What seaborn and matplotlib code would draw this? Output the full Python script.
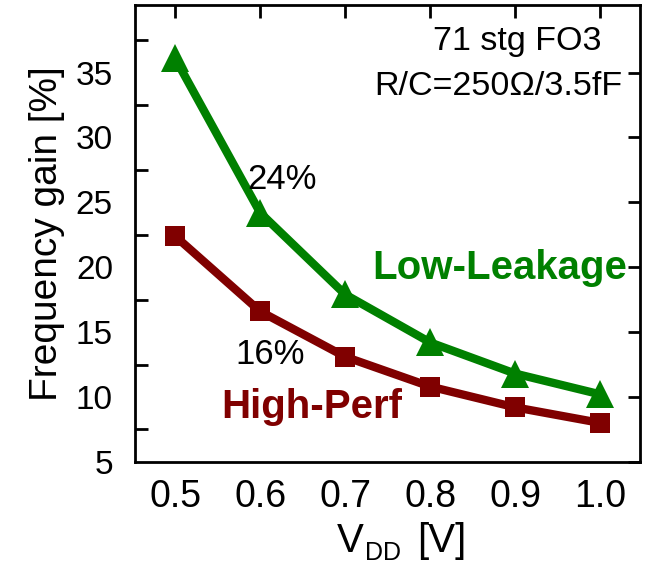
import matplotlib
matplotlib.use("Agg")
import matplotlib.pyplot as plt
import seaborn as sns
import pandas as pd
from matplotlib.ticker import FixedLocator

vdd = [0.5, 0.6, 0.7, 0.8, 0.9, 1.0]
low_leakage = [36.1, 24.2, 17.9, 14.2, 11.8, 10.2]
high_perf = [22.4, 16.6, 13.1, 10.8, 9.2, 8.0]
xtick_labels = ["0.5", "0.6", "0.7", "0.8", "0.9", "1.0"]
ytick_major = [5, 10, 15, 20, 25, 30, 35]
ytick_minor = [7.5, 12.5, 17.5, 22.5, 27.5, 32.5, 37.5]

df_low = pd.DataFrame({"VDD": vdd, "gain": low_leakage})
df_high = pd.DataFrame({"VDD": vdd, "gain": high_perf})

sns.set_style("white")
plt.rcParams["font.family"] = ["Liberation Sans", "DejaVu Sans"]
plt.rcParams["text.color"] = "black"
plt.rcParams["axes.labelcolor"] = "black"
plt.rcParams["xtick.color"] = "black"
plt.rcParams["ytick.color"] = "black"

green = "#008000"
dred = "#800000"

W, H = 656, 566
fig = plt.figure(figsize=(W / 100, H / 100), dpi=100)
ax = fig.add_axes([0.206, 0.184, 0.770, 0.807])

sns.lineplot(data=df_low, x="VDD", y="gain", color=green, marker="^",
             linewidth=6, markersize=20, markeredgewidth=0, ax=ax)
sns.lineplot(data=df_high, x="VDD", y="gain", color=dred, marker="s",
             linewidth=6, markersize=14.5, markeredgewidth=0, ax=ax)

ax.set_xlim(0.453, 1.047)
ax.set_ylim(5, 40.2)
ax.xaxis.set_major_locator(FixedLocator(vdd))
ax.set_xticklabels(xtick_labels)
ax.yaxis.set_major_locator(FixedLocator(ytick_major))
ax.yaxis.set_minor_locator(FixedLocator(ytick_minor))

for sp in ax.spines.values():
    sp.set_linewidth(2)
    sp.set_color("black")

ax.tick_params(axis="both", which="major", direction="in", length=9, width=2,
               top=True, right=True)
ax.tick_params(axis="y", which="major", labelsize=24, pad=16)
ax.tick_params(axis="x", which="major", labelsize=27, pad=12)
ax.tick_params(axis="y", which="minor", direction="in", length=9, width=2,
               left=True, right=False)

ax.set_xlabel("")
ax.set_ylabel("Frequency gain [%]", fontsize=28, labelpad=8)

# x-axis label built from pieces: V, subscript DD, [V]
fig.text(337 / W, (H - 552) / H, "V", fontsize=29, ha="left", va="baseline")
fig.text(365 / W, (H - 560) / H, "DD", fontsize=18, ha="left", va="baseline")
fig.text(417 / W, (H - 552) / H, "[V]", fontsize=29, ha="left", va="baseline")

ax.text(0.902, 36.77, "71 stg FO3", fontsize=24.5, ha="center", va="baseline")
ax.text(1.026, 33.3, "R/C=250\u03a9/3.5fF", fontsize=24.5, ha="right", va="baseline")
ax.text(0.585, 26.05, "24%", fontsize=25, ha="left", va="baseline")
ax.text(0.571, 12.55, "16%", fontsize=25, ha="left", va="baseline")
ax.text(0.732, 19.1, "Low-Leakage", fontsize=29, fontweight="bold", color=green,
        ha="left", va="baseline")
ax.text(0.554, 8.38, "High-Perf", fontsize=29, fontweight="bold", color=dred,
        ha="left", va="baseline")

fig.savefig("out.png", dpi=100)
